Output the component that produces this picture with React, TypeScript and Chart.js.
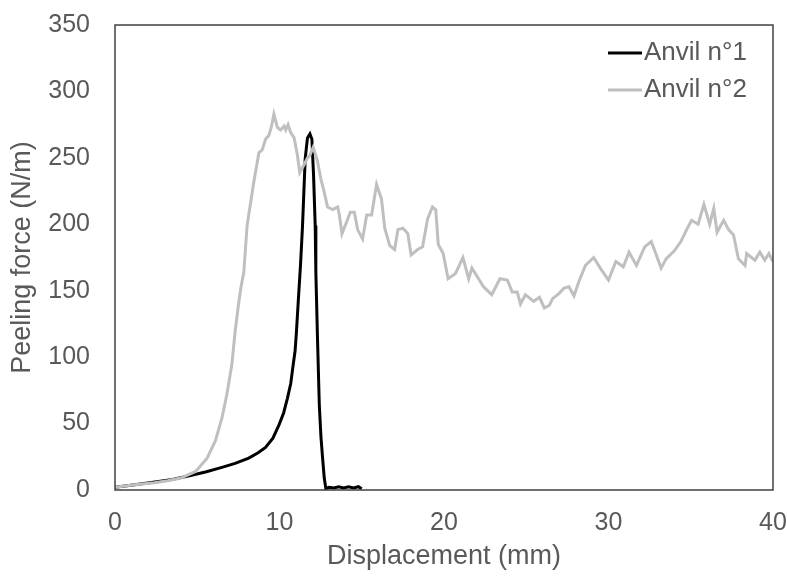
import React, { useEffect, useRef } from "react";
import { Chart, registerables } from "chart.js";

Chart.register(...registerables);

const seriesNames = ["Anvil n°1", "Anvil n°2"];
const seriesColors = ["#000000", "#bfbfbf"];

const xTitle = "Displacement (mm)";
const yTitle = "Peeling force (N/m)";

// Anvil n°1 (black)
const disp1 = [0, 1.2, 2.43, 3.5, 4.46, 5.5, 6.5, 7.3, 8.13, 8.7, 9.15, 9.6, 9.97, 10.25, 10.48, 10.68, 10.83, 10.95, 11.03, 11.15, 11.28, 11.4, 11.56, 11.7, 11.85, 11.97, 12.07, 12.17, 12.21, 12.31, 12.42, 12.52, 12.62, 12.72, 12.82, 13.0, 13.3, 13.6, 13.9, 14.2, 14.5, 14.8, 15.0];
const force1 = [2, 4, 6, 8, 10.5, 13.5, 17, 20, 24, 28, 32, 39, 49, 58, 69, 80, 94, 105, 119, 144, 170, 199, 249, 265, 268, 264, 237, 199, 164, 114, 64, 40, 24, 9, 1, 2, 1.5, 2.5, 1.5, 2.5, 1.5, 2.5, 1];

// Anvil n°2 (grey)
const disp2 = [0, 1.2, 2.4, 3.2, 4.0, 4.9, 5.6, 6.1, 6.5, 6.8, 7.1, 7.3, 7.5, 7.65, 7.83, 8.03, 8.44, 8.75, 8.95, 9.15, 9.36, 9.52, 9.66, 9.87, 10.07, 10.28, 10.38, 10.52, 10.68, 10.89, 11.09, 11.23, 11.5, 11.7, 11.85, 12.05, 12.3, 12.52, 12.72, 12.92, 13.23, 13.54, 13.64, 13.8, 14.15, 14.3, 14.55, 14.75, 15.05, 15.3, 15.6, 15.9, 16.2, 16.4, 16.7, 17.0, 17.2, 17.5, 17.8, 18.0, 18.4, 18.7, 19.0, 19.3, 19.5, 19.65, 19.95, 20.25, 20.7, 21.15, 21.5, 21.7, 22.1, 22.4, 22.9, 23.4, 23.85, 24.15, 24.45, 24.65, 24.95, 25.45, 25.8, 26.1, 26.4, 26.6, 27.0, 27.3, 27.6, 27.9, 28.2, 28.6, 29.1, 29.5, 30.0, 30.45, 30.9, 31.25, 31.7, 32.2, 32.6, 33.2, 33.5, 34.0, 34.4, 34.75, 35.05, 35.45, 35.8, 36.15, 36.4, 36.6, 37.0, 37.3, 37.6, 37.9, 38.3, 38.4, 38.9, 39.2, 39.5, 39.75, 40];
const force2 = [2, 4, 5.5, 7, 9, 14, 24, 37, 54, 72, 94, 119, 139, 152, 164, 199, 232, 254, 256, 264, 267, 274, 283, 273, 271, 274, 271, 275, 269, 265, 252, 239, 245, 250, 252, 258, 248, 234, 224, 213, 211, 213, 207, 193, 204, 209, 209, 196, 189, 207, 207, 230, 219, 197, 184, 181, 196, 197, 193, 177, 181, 183, 204, 213, 211, 185, 178, 159, 163, 175, 159, 167, 159, 153, 147, 159, 158, 149, 149, 140, 147, 142, 145, 137, 139, 144, 148, 152, 153, 146, 157, 169, 175, 167, 158, 172, 168, 179, 169, 183, 187, 167, 174, 180, 187, 196, 203, 200, 215, 200, 212, 194, 203, 196, 192, 174, 169, 178, 173, 179, 173, 178, 172];

const FONT = "'Liberation Sans', Arial, sans-serif";
const TEXT = "#595959";

export default function App() {
  const ref = useRef<HTMLCanvasElement>(null);

  useEffect(() => {
    document.body.style.margin = "0";
    const canvas = ref.current;
    if (!canvas) return;
    const pts = (xs: number[], ys: number[]) => xs.map((x, i) => ({ x, y: ys[i] }));

    const frame = {
      id: "frame",
      afterDatasetsDraw(chart: any) {
        const { ctx, chartArea: a } = chart;
        ctx.save();
        ctx.strokeStyle = "#404040";
        ctx.lineWidth = 1.5;
        ctx.strokeRect(a.left, a.top, a.right - a.left, a.bottom - a.top);
        ctx.restore();
      },
    };

    const legendIn = {
      id: "legendIn",
      afterDraw(chart: any) {
        const { ctx, chartArea: a } = chart;
        ctx.save();
        ctx.font = `26px ${FONT}`;
        ctx.textBaseline = "middle";
        ctx.textAlign = "left";
        seriesNames.forEach((name, i) => {
          const y = a.top + 28 + i * 37;
          ctx.strokeStyle = seriesColors[i];
          ctx.lineWidth = 3;
          ctx.beginPath();
          ctx.moveTo(a.right - 165, y);
          ctx.lineTo(a.right - 131, y);
          ctx.stroke();
          ctx.fillStyle = TEXT;
          ctx.fillText(name, a.right - 129, y);
        });
        ctx.restore();
      },
    };

    const chart = new Chart(canvas, {
      type: "scatter",
      data: {
        datasets: [
          {
            label: seriesNames[1],
            data: pts(disp2, force2),
            showLine: true,
            borderColor: seriesColors[1],
            borderWidth: 3,
            pointRadius: 0,
            tension: 0,
          },
          {
            label: seriesNames[0],
            data: pts(disp1, force1),
            showLine: true,
            borderColor: seriesColors[0],
            borderWidth: 3,
            pointRadius: 0,
            tension: 0,
          },
        ],
      },
      options: {
        responsive: false,
        animation: false,
        layout: { padding: { top: 25, right: 14, left: 0, bottom: 0 } },
        plugins: { legend: { display: false }, tooltip: { enabled: false } },
        scales: {
          x: {
            type: "linear",
            min: 0,
            max: 40,
            ticks: { stepSize: 10, font: { size: 25, family: FONT }, color: TEXT, padding: 18 },
            grid: { display: false, drawTicks: false },
            border: { display: false },
            title: { display: true, text: xTitle, font: { size: 27, family: FONT }, color: TEXT, padding: { top: 0, bottom: 4 } },
            afterFit(s: any) {
              s.height = 87;
              s.paddingLeft = 0;
              s.paddingRight = 0;
            },
          },
          y: {
            type: "linear",
            min: 0,
            max: 350,
            ticks: { stepSize: 50, font: { size: 25, family: FONT }, color: TEXT, padding: 25 },
            grid: { display: false, drawTicks: false },
            border: { display: false },
            title: { display: true, text: yTitle, font: { size: 27, family: FONT }, color: TEXT, padding: { top: 6, bottom: 0 } },
            afterFit(s: any) {
              s.width = 115;
              s.paddingTop = 0;
              s.paddingBottom = 0;
            },
          },
        },
      },
      plugins: [frame, legendIn],
    });
    return () => chart.destroy();
  }, []);

  return (
    <div style={{ width: 787, height: 577 }}>
      <canvas ref={ref} width={787} height={577} style={{ display: "block" }} />
    </div>
  );
}
